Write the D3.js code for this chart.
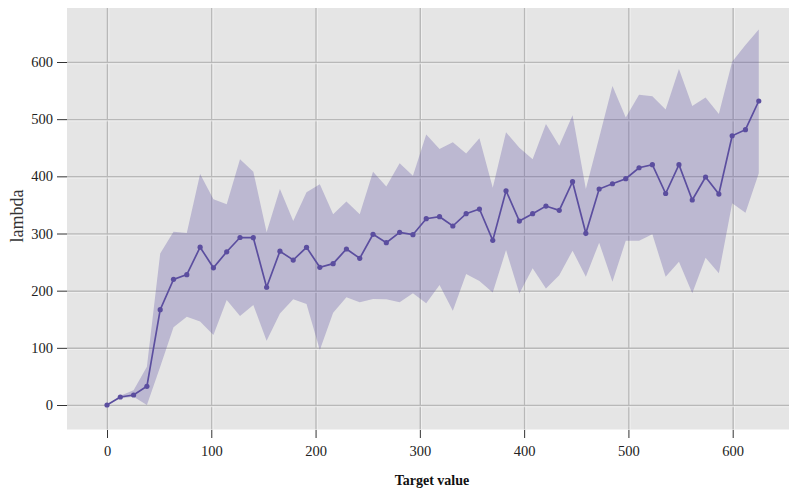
<!DOCTYPE html>
<html>
<head>
<meta charset="utf-8">
<style>
    body { margin: 0; background: white; }
    svg { display: block; font-family: 'Liberation Serif', 'Times New Roman', serif; }
    .axis .domain { display: none; }
    .axis .tick line { stroke: #333; stroke-width: 1px; }
    .axis .tick text { fill: #222; font-size: 14.5px; font-family: 'Liberation Serif', 'Times New Roman', serif; }
    .grid .domain { display: none; }
    .grid .tick text { display: none; }
</style>
</head>
<body>
<svg width="789" height="488"></svg>
<script src="https://d3js.org/d3.v7.min.js"></script>
<script>
    // target values (x) for each sample
    let targets = [0, 12.76, 25.51, 38.27, 51.02, 63.78, 76.53, 89.29, 102.04, 114.8,
        127.55, 140.31, 153.06, 165.82, 178.57, 191.33, 204.08, 216.84, 229.59, 242.35,
        255.1, 267.86, 280.61, 293.37, 306.12, 318.88, 331.63, 344.39, 357.14, 369.9,
        382.65, 395.41, 408.16, 420.92, 433.67, 446.43, 459.18, 471.94, 484.69, 497.45,
        510.2, 522.96, 535.71, 548.47, 561.22, 573.98, 586.73, 599.49, 612.24, 625]

    // mean lambda
    let lambdaMean = [0, 14, 17.5, 32.7, 166.7, 219.8, 228, 276, 240, 268,
        293, 292.7, 206, 269, 253.6, 275.8, 240.8, 247.2, 272.9, 256.6,
        298.6, 284, 302, 297.9, 325.9, 329.4, 313.1, 334.7, 342.8, 288,
        374.8, 321.8, 334.7, 348, 340.5, 390.6, 300.3, 377.8, 387, 395.9,
        415, 420.4, 370, 420.4, 358.6, 398.8, 369, 471, 481.6, 531.8]

    // band edges
    let lambdaUpper = [0, 16, 26, 67, 265, 303, 301, 404, 360, 351,
        430, 408, 302, 378, 322, 372, 386, 333.5, 356, 333.5,
        408, 382, 423, 401, 473, 448, 459.5, 440, 466.5, 380,
        477, 450, 430, 491.5, 453.6, 507, 377.8, 467.6, 558, 503,
        542.8, 540, 517, 587.7, 523, 538, 509, 600.5, 629.7, 657]

    let lambdaLower = [0, 12, 14.6, 0, 67, 136, 154.5, 146, 122.4, 183.7,
        155.7, 175, 112.5, 160, 185, 176.7, 96, 161.5, 188.4, 179.6,
        185.4, 185, 179.6, 195.4, 177.9, 210, 165, 229, 217, 197,
        271, 195, 239, 204, 227, 270, 224.5, 284, 215.7, 287.4,
        287.4, 298.5, 224.5, 250.7, 195.4, 257.7, 230.3, 352.8, 336.4, 405.3]

    let xTicks = [0, 100, 200, 300, 400, 500, 600]
    let yTicks = [0, 100, 200, 300, 400, 500, 600]

    let data = targets.map((t, i) => ({
        x: t, mean: lambdaMean[i], lo: lambdaLower[i], hi: lambdaUpper[i]
    }))

    let panel = { left: 67, right: 789, top: 8, bottom: 429.5 }

    let svg = d3.select("svg")

    let x = d3.scaleLinear().domain([0, 600]).range([107, 732.7])
    let y = d3.scaleLinear().domain([0, 600]).range([405, 62])

    // grey panel
    svg.append("rect")
        .attr("x", panel.left)
        .attr("y", panel.top)
        .attr("width", panel.right - panel.left)
        .attr("height", panel.bottom - panel.top)
        .attr("fill", "#e5e5e5")

    // grid: grey line with a thin white line beside it
    svg.append("g")
        .attr("class", "grid")
        .attr("transform", `translate(0,${panel.bottom})`)
        .call(d3.axisBottom(x).tickValues(xTicks).tickSize(panel.top - panel.bottom))
        .call(g => g.selectAll(".tick line").attr("stroke", "#b8b8b8").attr("stroke-width", 1.5))

    svg.append("g")
        .attr("class", "grid")
        .attr("transform", `translate(1.2,${panel.bottom})`)
        .call(d3.axisBottom(x).tickValues(xTicks).tickSize(panel.top - panel.bottom))
        .call(g => g.selectAll(".tick line").attr("stroke", "#f4f4f4").attr("stroke-width", 0.8))

    svg.append("g")
        .attr("class", "grid")
        .attr("transform", `translate(${panel.left},0)`)
        .call(d3.axisLeft(y).tickValues(yTicks).tickSize(panel.left - panel.right))
        .call(g => g.selectAll(".tick line").attr("stroke", "#b8b8b8").attr("stroke-width", 1.5))

    svg.append("g")
        .attr("class", "grid")
        .attr("transform", `translate(${panel.left},1.2)`)
        .call(d3.axisLeft(y).tickValues(yTicks).tickSize(panel.left - panel.right))
        .call(g => g.selectAll(".tick line").attr("stroke", "#f4f4f4").attr("stroke-width", 0.8))

    // band
    let area = d3.area()
        .x(d => x(d.x))
        .y0(d => y(d.lo))
        .y1(d => y(d.hi))

    svg.append("path")
        .datum(data)
        .attr("d", area)
        .attr("fill", "#5e4fa2")
        .attr("fill-opacity", 0.3)

    // mean line
    let line = d3.line()
        .x(d => x(d.x))
        .y(d => y(d.mean))

    svg.append("path")
        .datum(data)
        .attr("d", line)
        .attr("fill", "none")
        .attr("stroke", "#5b4e9f")
        .attr("stroke-width", 1.7)

    svg.append("g")
        .selectAll("circle")
        .data(data)
        .join("circle")
        .attr("cx", d => x(d.x))
        .attr("cy", d => y(d.mean))
        .attr("r", 2.6)
        .attr("fill", "#5b4e9f")

    // axes
    svg.append("g")
        .attr("class", "axis")
        .attr("transform", `translate(0,${panel.bottom + 0.5})`)
        .call(d3.axisBottom(x).tickValues(xTicks).tickSize(8).tickPadding(8))

    svg.append("g")
        .attr("class", "axis")
        .attr("transform", `translate(${panel.left},0)`)
        .call(d3.axisLeft(y).tickValues(yTicks).tickSize(10).tickPadding(4))

    // axis titles
    svg.append("text")
        .text("Target value")
        .attr("x", 432)
        .attr("y", 485)
        .attr("text-anchor", "middle")
        .attr("font-size", "14px")
        .attr("font-weight", "bold")
        .attr("fill", "#111")

    svg.append("text")
        .text("lambda")
        .attr("transform", "translate(23,216) rotate(-90)")
        .attr("text-anchor", "middle")
        .attr("font-size", "18px")
        .attr("fill", "#333")
</script>
</body>
</html>
